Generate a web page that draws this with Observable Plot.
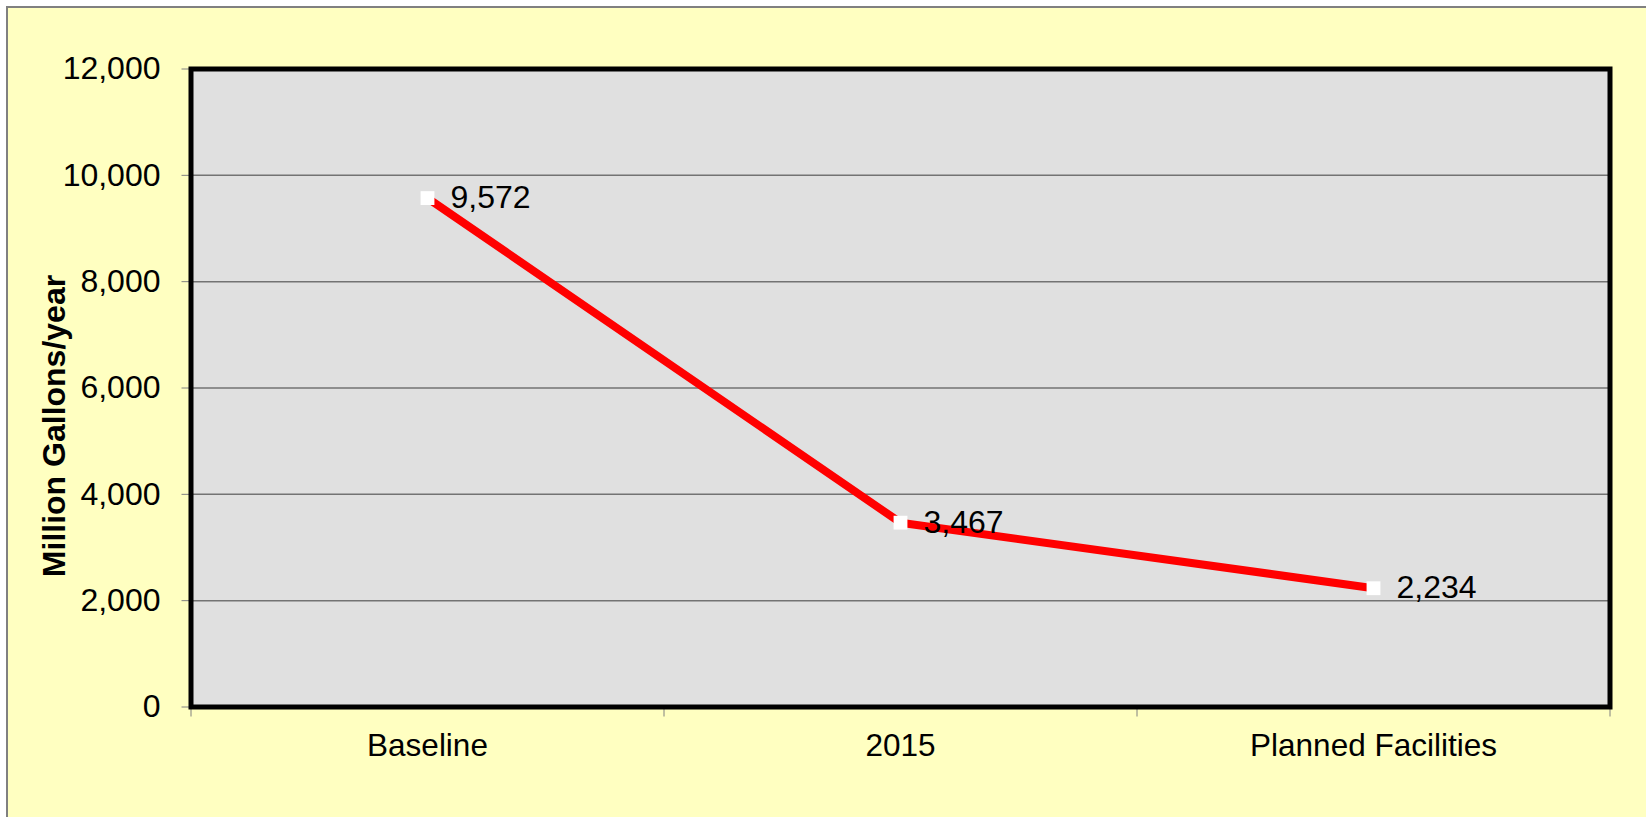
<!DOCTYPE html>
<html>
<head>
<meta charset="utf-8">
<script src="https://cdn.jsdelivr.net/npm/d3@7"></script>
<script src="https://cdn.jsdelivr.net/npm/@observablehq/plot@0.6"></script>
<style>
  html, body { margin: 0; padding: 0; background: #ffffff; overflow: hidden; }
  #bg { position: absolute; left: 6px; top: 6px; width: 1640px; height: 811px;
        background: #FFFFC1; border-left: 2px solid #808080; border-top: 2px solid #808080; box-sizing: border-box; }
  #chart { position: absolute; left: 0; top: 0; }
</style>
</head>
<body>
<div id="bg"></div>
<div id="chart"></div>
<script>
// ---- data ----
const categories = ["Baseline", "2015", "Planned Facilities"];
const values = [9572, 3467, 2234];
const yTicks = [0, 2000, 4000, 6000, 8000, 10000, 12000];
const gridTicks = [2000, 4000, 6000, 8000, 10000];
const yLabel = "Million Gallons/year";

const data = categories.map((c, i) => ({cat: c, pos: i + 0.5, v: values[i]}));
const catPositions = categories.map((c, i) => i + 0.5);
const boundaries = d3.range(categories.length + 1);

const font = "'Liberation Sans', Arial, sans-serif";
const fmt = d3.format(",");

const chart = Plot.plot({
  width: 1646,
  height: 817,
  marginLeft: 190.5,
  marginRight: 36.5,
  marginTop: 68.5,
  marginBottom: 110.5,
  style: {fontFamily: font, fontSize: "32px", background: "transparent", color: "#000", overflow: "visible"},
  x: {type: "linear", domain: [0, categories.length]},
  y: {domain: [0, 12000]},
  marks: [
    Plot.frame({fill: "#E0E0E0", stroke: "none"}),
    Plot.ruleY(gridTicks, {stroke: "#737373", strokeWidth: 1.5}),
    Plot.axisY({ticks: yTicks, tickFormat: fmt, tickSize: 9, tickPadding: 21.5, stroke: "#808080", fill: "#000", fontSize: 32, label: null}),
    Plot.axisX({ticks: boundaries, tickSize: 10, tickFormat: () => "", stroke: "#808080", label: null}),
    Plot.axisX({ticks: catPositions, tickSize: 0, tickPadding: 27, tickFormat: d => categories[Math.round(d - 0.5)], fill: "#000", fontSize: 31.5, label: null}),
    Plot.line(data, {x: "pos", y: "v", stroke: "#FF0000", strokeWidth: 8, strokeLinejoin: "round", strokeLinecap: "butt"}),
    Plot.dot(data, {x: "pos", y: "v", symbol: "square", r: 7.8, fill: "#FFFFFF", stroke: "none"}),
    Plot.text(data, {x: "pos", y: "v", text: d => fmt(d.v), textAnchor: "start", dx: 23, fontSize: 32, fill: "#000"}),
    Plot.frame({stroke: "#000", strokeWidth: 5})
  ]
});

d3.select(chart).append("text")
  .attr("transform", "translate(65,426) rotate(-90)")
  .attr("text-anchor", "middle")
  .attr("font-family", font)
  .attr("font-weight", "bold")
  .attr("font-size", 32)
  .attr("fill", "#000")
  .text(yLabel);

document.getElementById("chart").appendChild(chart);
</script>
</body>
</html>
